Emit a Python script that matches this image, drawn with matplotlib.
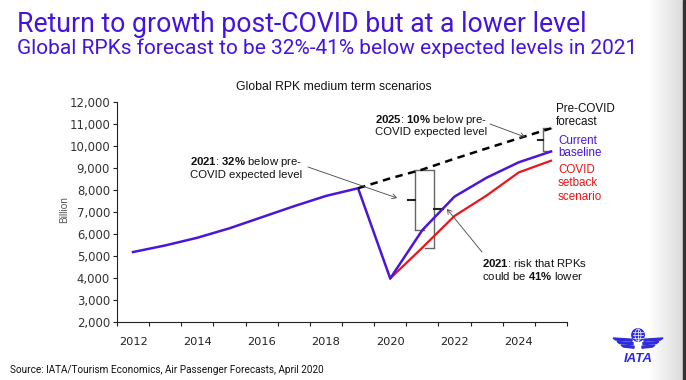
import matplotlib
matplotlib.use("Agg")
import matplotlib.pyplot as plt
import numpy as np
from matplotlib.ticker import FuncFormatter, FixedLocator
from matplotlib.patches import Circle, Polygon, Rectangle, FancyArrowPatch

plt.rcParams["mathtext.fontset"] = "custom"
plt.rcParams["mathtext.rm"] = "Liberation Sans"
plt.rcParams["mathtext.bf"] = "Liberation Sans:bold"

# ---------------- data ----------------
years = [2012, 2013, 2014, 2015, 2016, 2017, 2018, 2019, 2020, 2021, 2022, 2023, 2024, 2025]
baseline = [5180, 5480, 5830, 6260, 6760, 7260, 7730, 8080, 3980, 6180, 7700, 8560, 9260, 9750]
setback_years = [2020, 2021, 2022, 2023, 2024, 2025]
setback = [3980, 5380, 6820, 7750, 8800, 9330]
precovid_years = [2019, 2020, 2021, 2022, 2023, 2024, 2025]
precovid = [8080, 8530, 8930, 9420, 9890, 10350, 10800]
xtick_labels = [2012, 2014, 2016, 2018, 2020, 2022, 2024]
yticks = [2000, 3000, 4000, 5000, 6000, 7000, 8000, 9000, 10000, 11000, 12000]

title = "Return to growth post-COVID but at a lower level"
subtitle = "Global RPKs forecast to be 32%-41% below expected levels in 2021"
chart_title = "Global RPK medium term scenarios"
source = "Source: IATA/Tourism Economics, Air Passenger Forecasts, April 2020"

PURPLE = "#4413E0"
LINEBLUE = "#4A17D9"
RED = "#E8161B"
W, H = 686, 380

fig = plt.figure(figsize=(W / 100, H / 100), dpi=100)
fig.patch.set_facecolor("white")
renderer = fig.canvas.get_renderer()


def fx(x):
    return x / W


def fy(y):
    return 1 - y / H


def fit_text(x, y, s, target_w, family, color, weight="normal", size0=14):
    t = fig.text(fx(x), fy(y), s, fontsize=size0, family=family, color=color,
                 weight=weight, va="baseline", ha="left")
    w = t.get_window_extent(renderer).width
    t.set_fontsize(size0 * target_w / w)
    return t


# ---------------- right edge shading (drawn first, under everything) ----------------
sax = fig.add_axes([fx(648), 0, 35 / W, 1])
grad = np.linspace(1.0, 0.86, 64).reshape(1, -1)
sax.imshow(grad, cmap="gray", vmin=0, vmax=1, aspect="auto", extent=[0, 1, 0, 1])
sax.axis("off")
fig.add_artist(Rectangle((fx(683), 0), 3 / W, 1, transform=fig.transFigure,
                         color="#333333", zorder=10))

# titles
fit_text(17, 32, title, 569, "Roboto", PURPLE, size0=18)
fit_text(17, 54, subtitle, 619, "Roboto", PURPLE, size0=13)

# ---------------- main axes ----------------
ax = fig.add_axes([fx(117), fy(322), (567 - 117) / W, (322 - 102) / H])
ax.set_xlim(2011.5, 2025.5)
ax.set_ylim(2000, 12000)

ax.plot(setback_years, setback, color=RED, lw=1.6, zorder=3)
ax.plot(years, baseline, color=LINEBLUE, lw=1.8, zorder=4)
ax.plot(precovid_years, precovid, color="black", lw=1.8, ls=(0, (3.0, 2.2)), zorder=5)

for s in ["top", "right"]:
    ax.spines[s].set_visible(False)
for s in ["left", "bottom"]:
    ax.spines[s].set_color("#222222")
    ax.spines[s].set_linewidth(0.8)

ax.set_yticks(yticks)
ax.yaxis.set_major_formatter(FuncFormatter(lambda v, p: f"{int(v):,}"))
ax.tick_params(axis="y", direction="out", length=3, width=0.8, pad=2,
               labelsize=8.4, colors="#222222", labelcolor="#333333")
ax.xaxis.set_major_locator(FixedLocator(xtick_labels))
ax.set_xticklabels([str(v) for v in xtick_labels])
ax.xaxis.set_minor_locator(FixedLocator(np.arange(2011.5, 2026.0, 1.0)))
ax.tick_params(axis="x", which="major", length=0, pad=11, labelsize=8.2, labelcolor="#222222")
ax.tick_params(axis="x", which="minor", direction="out", length=3, width=0.8, color="#222222")

fig.text(fx(64), fy(210), "Billion", rotation=90, fontsize=7.2, color="#555555",
         family="Liberation Sans", ha="center", va="center")
fig.text(fx(334), fy(87), chart_title, fontsize=8.8, color="#111111",
         family="Liberation Sans", ha="center", va="center")

# ---------------- brackets ----------------
bc = "#666666"


def val(arr_years, arr, yr):
    return arr[arr_years.index(yr)]


def bracket(x, y0, y1, cap_x, mid_x):
    ax.plot([x, x], [y0, y1], color=bc, lw=1.0, zorder=2, solid_capstyle="butt")
    ax.plot([x, cap_x], [y0, y0], color=bc, lw=1.0, zorder=2)
    ax.plot([x, cap_x], [y1, y1], color=bc, lw=1.0, zorder=2)
    ym = (y0 + y1) / 2
    ax.plot([x, mid_x], [ym, ym], color="#222222", lw=1.5, zorder=2)


bracket(2020.77, val(precovid_years, precovid, 2021), val(years, baseline, 2021), 2021.05, 2020.55)
bracket(2021.36, val(precovid_years, precovid, 2021), val(setback_years, setback, 2021), 2021.08, 2021.64)
bracket(2024.75, val(precovid_years, precovid, 2025), val(years, baseline, 2025), 2025.0, 2024.6)

# ---------------- annotations ----------------
AFONT = "Liberation Sans"
ASIZE = 8.2


def note(x, y, s, size=ASIZE, color="#111111"):
    fig.text(fx(x), fy(y), s, fontsize=size, family=AFONT, color=color,
             va="baseline", ha="left")


def arrow(x0, y0, x1, y1):
    fig.add_artist(FancyArrowPatch(
        (fx(x0), fy(y0)), (fx(x1), fy(y1)), transform=fig.transFigure,
        arrowstyle="->,head_length=3,head_width=1.8", color="#444444", lw=0.6,
        shrinkA=0, shrinkB=0))


note(190, 165, r"$\mathbf{2021}$: $\mathbf{32\%}$ below pre-")
note(190, 178, "COVID expected level")
arrow(308, 167, 397, 198)

note(375, 123, r"$\mathbf{2025}$: $\mathbf{10\%}$ below pre-")
note(375, 135, "COVID expected level")
arrow(490, 124, 525, 137)

note(482, 267, r"$\mathbf{2021}$: risk that RPKs")
note(482, 280, r"could be $\mathbf{41\%}$ lower")
arrow(482, 252, 447, 209)

LSIZE = 8.4
for txt, y, c, x in [("Pre-COVID", 112, "#111111", 556), ("forecast", 125, "#111111", 556),
                     ("Current", 143.5, LINEBLUE, 558), ("baseline", 156.5, LINEBLUE, 558),
                     ("COVID", 173.5, RED, 558), ("setback", 186.5, RED, 558),
                     ("scenario", 200, RED, 558)]:
    fig.text(fx(x), fy(y), txt, fontsize=LSIZE, family=AFONT, color=c, va="baseline", ha="left")

fig.text(fx(10), fy(373), source, fontsize=7.2, family="Roboto", color="#111111",
         va="baseline", ha="left")

# ---------------- IATA logo ----------------
LOGO = "#2F2BD8"
lax = fig.add_axes([fx(608), fy(372), 60 / W, 47 / H])
lax.set_xlim(0, 60)
lax.set_ylim(0, 47)
lax.axis("off")
lax.patch.set_alpha(0)
lax.add_patch(Circle((30, 37), 6.2, color=LOGO))
for dy in (-3, 0, 3):
    lax.plot([25, 35], [37 + dy, 37 + dy], color="white", lw=0.5)
lax.plot([30, 30], [31, 43], color="white", lw=0.5)
th = np.linspace(-np.pi / 2, np.pi / 2, 30)
lax.plot(30 + 3 * np.cos(th), 37 + 6 * np.sin(th), color="white", lw=0.5)
lax.plot(30 - 3 * np.cos(th), 37 + 6 * np.sin(th), color="white", lw=0.5)
stripes = [(34, 2.0, 5, 24), (30.5, 2.0, 9, 25), (27, 2.0, 13, 26)]
for ytop, hgt, xin, xout in stripes:
    lax.add_patch(Polygon([[xin, ytop], [xout, ytop - 1.2], [xout, ytop - 1.2 - hgt],
                           [xin + 2.5, ytop - hgt]], color=LOGO))
    lax.add_patch(Polygon([[60 - xin, ytop], [60 - xout, ytop - 1.2], [60 - xout, ytop - 1.2 - hgt],
                           [60 - xin - 2.5, ytop - hgt]], color=LOGO))
lax.text(30, 13, "IATA", ha="center", va="center", fontsize=9.5, weight="heavy",
         style="italic", family="Liberation Sans", color=LOGO)

fig.savefig("out.png", dpi=100)
